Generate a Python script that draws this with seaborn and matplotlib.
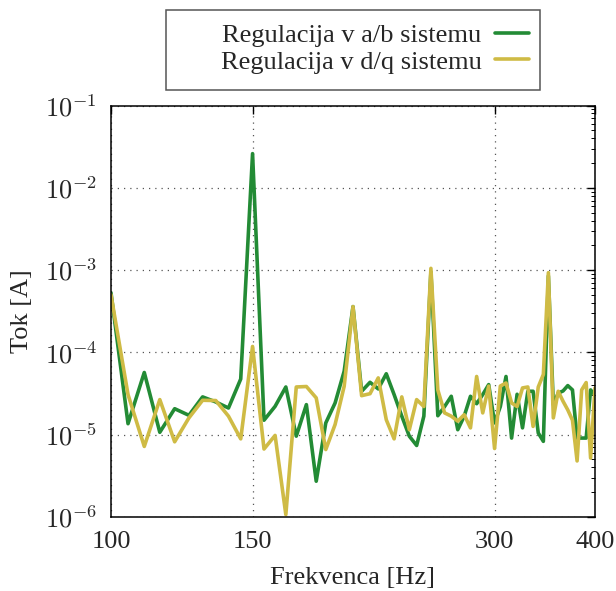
import matplotlib
matplotlib.use("Agg")
import matplotlib.pyplot as plt
import matplotlib.ticker as mticker
from matplotlib.patches import Rectangle
import seaborn as sns
import pandas as pd

freq = [100, 105, 110, 115, 120, 125, 130, 135, 140, 145,
        150, 155, 160, 165, 170, 175, 180, 185, 190, 195,
        200, 205, 210, 215, 220, 225, 230, 235, 240, 245,
        250, 255, 260, 265, 270, 275, 280, 285, 290, 295,
        300, 305, 310, 315, 320, 325, 330, 335, 340, 345,
        350, 355, 360, 365, 370, 375, 380, 385, 390, 395, 400]

tok_ab = [5.3e-4, 1.36e-5, 5.7e-5, 1.07e-5, 2.07e-5, 1.72e-5, 2.88e-5, 2.5e-5, 2.11e-5, 4.75e-5,
          2.6e-2, 1.5e-5, 2.21e-5, 3.8e-5, 9.6e-6, 2.32e-5, 2.72e-6, 1.39e-5, 2.43e-5, 5.9e-5,
          3.6e-4, 3.37e-5, 4.33e-5, 3.6e-5, 5.5e-5, 3.07e-5, 1.68e-5, 9.6e-6, 7.4e-6, 1.68e-5,
          9.5e-4, 1.7e-5, 2.2e-5, 2.93e-5, 1.15e-5, 1.68e-5, 2.93e-5, 2.38e-5, 3.07e-5, 4.06e-5,
          1.39e-5, 2.2e-5, 5.1e-5, 9.1e-6, 3.1e-5, 1.21e-5, 3.37e-5, 3.37e-5, 1.05e-5, 8.3e-6,
          8.5e-4, 2.32e-5, 3.2e-5, 3.4e-5, 3.95e-5, 3.5e-5, 9.1e-6, 9.1e-6, 9.1e-6, 3.5e-5, 3.0e-5]

tok_dq = [5.0e-4, 3.07e-5, 7.2e-6, 2.67e-5, 8.2e-6, 1.6e-5, 2.62e-5, 2.6e-5, 1.68e-5, 8.9e-6,
          1.18e-4, 6.7e-6, 9.8e-6, 1.07e-6, 3.8e-5, 3.85e-5, 2.8e-5, 6.6e-6, 1.33e-5, 3.87e-5,
          3.6e-4, 2.98e-5, 3.15e-5, 4.9e-5, 1.52e-5, 8.9e-6, 2.88e-5, 1.15e-5, 2.67e-5, 2.2e-5,
          1.05e-3, 3.5e-5, 1.84e-5, 1.68e-5, 1.46e-5, 1.75e-5, 1.21e-5, 5.1e-5, 1.84e-5, 3.9e-5,
          6.8e-6, 3.9e-5, 4.25e-5, 2.43e-5, 2.2e-5, 3.7e-5, 3.8e-5, 1.26e-5, 3.8e-5, 5.4e-5,
          9.3e-4, 1.6e-5, 3.37e-5, 2.55e-5, 2.0e-5, 1.5e-5, 4.8e-6, 3.5e-5, 4.3e-5, 5.2e-6, 3.7e-5]

series_names = ["Regulacija v a/b sistemu", "Regulacija v d/q sistemu"]
series_colors = ["#238b35", "#cfbb45"]

x_ticks = [100, 150, 300, 400]
x_tick_labels = ["100", "150", "300", "400"]
y_ticks = [1e-6, 1e-5, 1e-4, 1e-3, 1e-2, 1e-1]
y_tick_labels = [r"$10^{-6}$", r"$10^{-5}$", r"$10^{-4}$", r"$10^{-3}$", r"$10^{-2}$", r"$10^{-1}$"]

df = pd.DataFrame({
    "f": freq + freq,
    "tok": tok_ab + tok_dq,
    "serija": [series_names[0]] * len(freq) + [series_names[1]] * len(freq),
})

sns.set_style("white")
plt.rcParams["font.family"] = ["Liberation Serif", "DejaVu Serif"]
plt.rcParams["mathtext.fontset"] = "cm"

fig = plt.figure(figsize=(6.16, 5.91), dpi=100)
ax = fig.add_axes([111 / 616, 1 - 517 / 591, 484 / 616, (517 - 105.5) / 591])

sns.lineplot(data=df, x="f", y="tok", hue="serija", palette=series_colors,
             hue_order=series_names, linewidth=2.6, ax=ax, legend=False, sort=False)

ax.set_xscale("log")
ax.set_yscale("log")
ax.set_xlim(100, 400)
ax.set_ylim(1e-6, 1e-1)

ax.xaxis.set_major_locator(mticker.FixedLocator(x_ticks))
ax.xaxis.set_major_formatter(mticker.FixedFormatter(x_tick_labels))
ax.xaxis.set_minor_locator(mticker.NullLocator())
ax.yaxis.set_major_locator(mticker.FixedLocator(y_ticks))
ax.yaxis.set_major_formatter(mticker.FixedFormatter(y_tick_labels))
ax.yaxis.set_minor_locator(mticker.LogLocator(base=10, subs=range(2, 10), numticks=20))
ax.yaxis.set_minor_formatter(mticker.NullFormatter())

ax.tick_params(axis="both", which="major", direction="in", length=6, width=1,
               top=True, right=True, labelsize=19, color="black", pad=10)
ax.tick_params(axis="both", which="minor", direction="in", length=3, width=0.7,
               top=True, right=True, color="black")
ax.tick_params(axis="y", which="major", pad=10)

ax.grid(True, which="major", linestyle=(0, (1, 4)), color="#555555", linewidth=0.9)
for sp in ax.spines.values():
    sp.set_color("black")
    sp.set_linewidth(1.1)

ax.set_xlabel("Frekvenca [Hz]", fontsize=19, labelpad=10)
ax.set_ylabel("Tok [A]", fontsize=19, labelpad=8)

handles = [plt.Line2D([], [], color=c, linewidth=2.6) for c in series_colors]
fig.legend(handles, series_names, loc="center right",
           bbox_to_anchor=(529 / 616, 1 - 48.5 / 591), markerfirst=False,
           frameon=False, fontsize=19, handlelength=1.3, handletextpad=0.5,
           labelspacing=0.12, borderpad=0, borderaxespad=0)
fig.add_artist(Rectangle((166 / 616, 1 - 90 / 591), (540 - 166) / 616, 80 / 591,
                         transform=fig.transFigure, fill=False,
                         edgecolor="#555555", linewidth=1.1))

fig.savefig("out.png", dpi=100)
